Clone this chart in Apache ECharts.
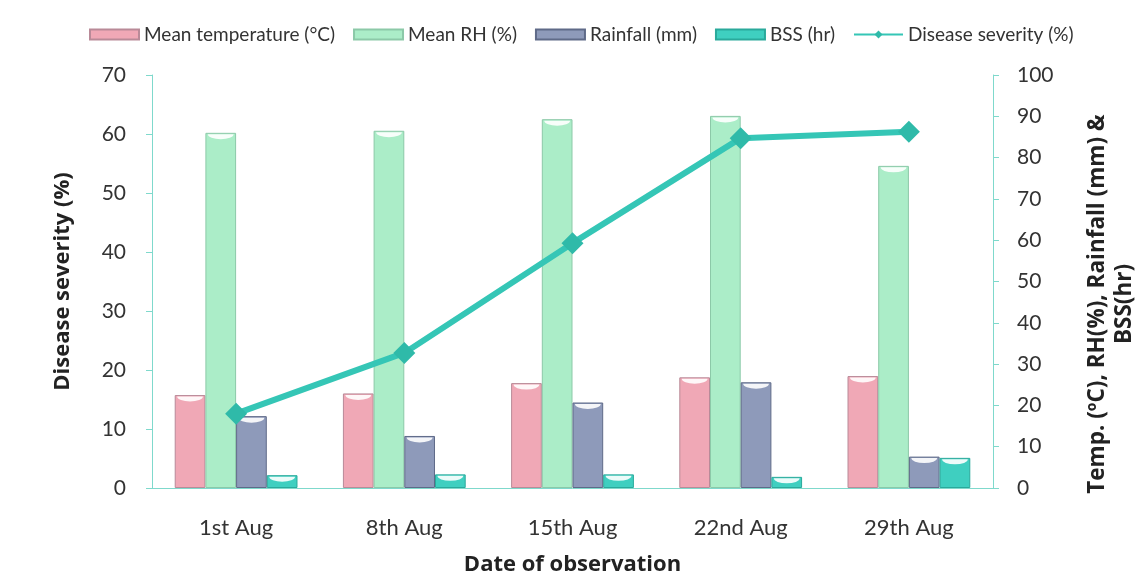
<!DOCTYPE html>
<html>
<head>
<meta charset="utf-8">
<script src="https://cdn.jsdelivr.net/npm/echarts@6/dist/echarts.min.js"></script>
<style>
  html, body { margin: 0; padding: 0; background: #fff; }
  #chart { width: 1137px; height: 578px; }
</style>
</head>
<body>
<div id="chart"></div>
<script>
// Weekly weather parameters and disease severity
const dates = ['1st Aug', '8th Aug', '15th Aug', '22nd Aug', '29th Aug'];
const meanTemp = [22.5, 22.9, 25.4, 26.8, 27.1];
const meanRH = [86.0, 86.5, 89.3, 90.1, 78.0];
const rainfall = [17.4, 12.6, 20.7, 25.6, 7.6];
const bss = [3.1, 3.3, 3.3, 2.7, 7.3];
const severity = [12.6, 22.9, 41.5, 59.3, 60.4];

const FONT = 'Lato';
const TITLE_FONT = 'Open Sans';
const TEXT = '#333';
const AXIS = '#7fd9cc';

const chart = echarts.init(document.getElementById('chart'));

const BAR_LAYOUT = { barGap: '0%', barCategoryGap: '27%' };

function barSeries(name, data, fill, edge) {
  return Object.assign({
    name, type: 'bar', data, yAxisIndex: 1,
    itemStyle: { color: fill, borderColor: edge, borderWidth: 1 }
  }, BAR_LAYOUT);
}

// half-ellipse highlight just under the top edge of each bar (cylinder-like look)
const CAP_PATH = 'path://M0 0 H100 A50 40 0 0 1 0 0 Z';
function capSeries(id, data) {
  return Object.assign({
    id, type: 'pictorialBar', data, yAxisIndex: 1,
    symbol: CAP_PATH, symbolSize: ['84%', 5], symbolPosition: 'end',
    symbolOffset: [0, 1.5],
    itemStyle: { color: 'rgba(255,255,255,0.9)' },
    z: 3, silent: true, legendHoverLink: false
  }, BAR_LAYOUT);
}

chart.setOption({
  animation: false,
  textStyle: { fontFamily: FONT },
  legend: {
    top: 20, left: 84,
    itemWidth: 49, itemHeight: 10, itemGap: 18,
    textStyle: { fontFamily: FONT, fontSize: 19, color: TEXT },
    data: [
      { name: 'Mean temperature (°C)', icon: 'rect' },
      { name: 'Mean RH (%)', icon: 'rect' },
      { name: 'Rainfall (mm)', icon: 'rect' },
      { name: 'BSS (hr)', icon: 'rect' },
      { name: 'Disease severity (%)' }
    ]
  },
  grid: { left: 152, right: 144, top: 75, bottom: 90, outerBoundsMode: 'none', containLabel: false },
  xAxis: {
    type: 'category', data: dates,
    axisLine: { lineStyle: { color: AXIS, width: 1 } },
    axisTick: { show: false },
    axisLabel: { fontFamily: FONT, fontSize: 22, color: TEXT, margin: 29 },
    name: 'Date of observation', nameLocation: 'middle', nameGap: 66,
    nameTextStyle: { fontFamily: TITLE_FONT, fontSize: 22, fontWeight: 'bold', color: '#222' }
  },
  yAxis: [
    {
      type: 'value', min: 0, max: 70, interval: 10, position: 'left',
      axisLine: { show: true, lineStyle: { color: AXIS } },
      axisTick: { show: true, length: 6, lineStyle: { color: AXIS } },
      splitLine: { show: false },
      axisLabel: { fontFamily: FONT, fontSize: 21, color: TEXT, margin: 26 },
      name: 'Disease severity (%)', nameLocation: 'middle', nameGap: 78,
      nameTextStyle: { fontFamily: TITLE_FONT, fontSize: 22, fontWeight: 'bold', color: '#222' }
    },
    {
      type: 'value', min: 0, max: 100, interval: 10, position: 'right',
      axisLine: { show: true, lineStyle: { color: AXIS } },
      axisTick: { show: true, length: 6, lineStyle: { color: AXIS } },
      splitLine: { show: false },
      axisLabel: { fontFamily: FONT, fontSize: 21, color: TEXT, margin: 24 }
    }
  ],
  graphic: [
    {
      type: 'text',
      x: 1111, y: 304, rotation: Math.PI / 2,
      style: {
        text: 'Temp. (ºC), RH(%), Rainfall (mm) &\nBSS(hr)',
        font: 'bold 22.5px "' + TITLE_FONT + '"', fill: '#222',
        align: 'center', verticalAlign: 'middle', lineHeight: 27
      }
    }
  ],
  series: [
    barSeries('Mean temperature (°C)', meanTemp, '#f0a8b6', '#b98a98'),
    barSeries('Mean RH (%)', meanRH, '#abedc8', '#8cc9a8'),
    barSeries('Rainfall (mm)', rainfall, '#8e9aba', '#5f6a88'),
    barSeries('BSS (hr)', bss, '#3fcfc0', '#2aa99b'),
    capSeries('capTemp', meanTemp),
    capSeries('capRH', meanRH),
    capSeries('capRain', rainfall),
    capSeries('capBSS', bss),
    {
      name: 'Disease severity (%)', type: 'line', data: severity, yAxisIndex: 0,
      symbol: 'diamond', symbolSize: 22,
      lineStyle: { color: '#35c6b6', width: 6 },
      itemStyle: { color: '#2fbaa9' },
      z: 5
    }
  ]
});
</script>
</body>
</html>
